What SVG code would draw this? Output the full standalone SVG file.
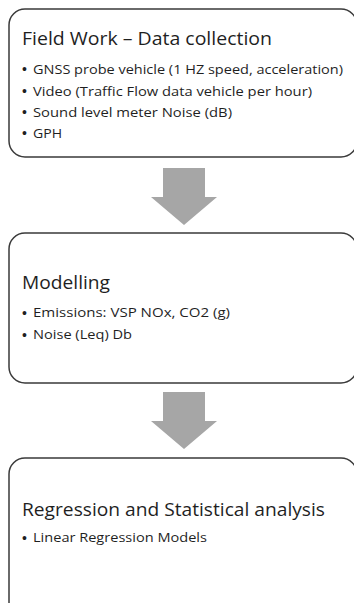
<svg xmlns="http://www.w3.org/2000/svg" width="354" height="603" viewBox="0 0 354 603">
  <style>
    .box { fill: #ffffff; stroke: #3a3a3a; stroke-width: 1.5; }
    .flow { fill: #a6a6a6; stroke: none; }
    .title { font-family: "Open Sans", "Liberation Sans", sans-serif; font-size: 17.5px; fill: #1f1f1f; }
    .item { font-family: "Open Sans", "Liberation Sans", sans-serif; font-size: 13px; fill: #1f1f1f; }
    .mark { font-family: "Liberation Sans", "Open Sans", sans-serif; font-size: 14px; fill: #1f1f1f; }
  </style>
  <defs>
    <!-- down-pointing block arrow, drawn with its top-left shaft corner at 0,0 -->
    <polygon id="down-arrow" points="0,0 42,0 42,29 54,29 21,57 -12,29 0,29"/>
  </defs>
  <rect width="354" height="603" fill="#ffffff"/>

  <g id="connectors">
    <use href="#down-arrow" class="flow" x="163" y="168"/>
    <use href="#down-arrow" class="flow" x="163" y="392"/>
  </g>

  <g id="field-work">
    <rect class="box" x="9" y="9" width="348" height="148" rx="16"/>
    <text class="title" x="22" y="44.5" textLength="250" lengthAdjust="spacingAndGlyphs">Field Work – Data collection</text>
    <text class="mark" x="22" y="74">•</text>
    <text class="item" x="33" y="73.5" textLength="310" lengthAdjust="spacingAndGlyphs">GNSS probe vehicle (1 HZ speed, acceleration)</text>
    <text class="mark" x="22" y="96">•</text>
    <text class="item" x="33" y="95.5" textLength="279" lengthAdjust="spacingAndGlyphs">Video (Traffic Flow data vehicle per hour)</text>
    <text class="mark" x="22" y="117">•</text>
    <text class="item" x="33" y="116.5" textLength="199" lengthAdjust="spacingAndGlyphs">Sound level meter Noise (dB)</text>
    <text class="mark" x="22" y="138">•</text>
    <text class="item" x="33" y="137.5" textLength="29" lengthAdjust="spacingAndGlyphs">GPH</text>
  </g>

  <g id="modelling">
    <rect class="box" x="9" y="233" width="348" height="150" rx="16"/>
    <text class="title" x="22" y="288.5" textLength="88" lengthAdjust="spacingAndGlyphs">Modelling</text>
    <text class="mark" x="22" y="317.5">•</text>
    <text class="item" x="33" y="317" textLength="197" lengthAdjust="spacingAndGlyphs">Emissions: VSP NOx, CO2 (g)</text>
    <text class="mark" x="22" y="339.5">•</text>
    <text class="item" x="33" y="339" textLength="99" lengthAdjust="spacingAndGlyphs">Noise (Leq) Db</text>
  </g>

  <g id="regression">
    <rect class="box" x="9" y="458" width="348" height="160" rx="16"/>
    <text class="title" x="22" y="516" textLength="303" lengthAdjust="spacingAndGlyphs">Regression and Statistical analysis</text>
    <text class="mark" x="22" y="542.5">•</text>
    <text class="item" x="33" y="542" textLength="174" lengthAdjust="spacingAndGlyphs">Linear Regression Models</text>
  </g>
</svg>
